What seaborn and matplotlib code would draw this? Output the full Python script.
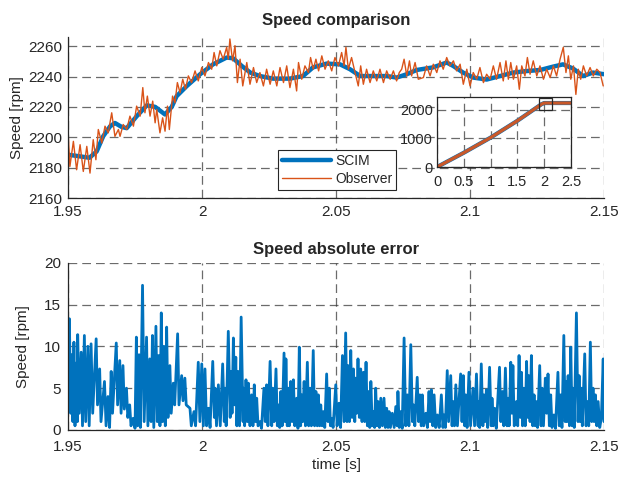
import numpy as np
import pandas as pd
import seaborn as sns
import matplotlib
matplotlib.use("Agg")
import matplotlib.pyplot as plt
from matplotlib.patches import Rectangle
from matplotlib.lines import Line2D

# ---------------- data ----------------
T0 = 1.95  # start time [s]; offsets below in milliseconds

scim_ms = [0, 4.5, 8.0, 10.7, 13.1, 15.7, 17.5, 20.0, 21.9, 25.6, 29.4, 32.5, 36.2, 38.7,
           40.5, 44.3, 49.3, 54.1, 59.2, 61.6, 64.8, 68.0, 71.6, 76.5, 82.8, 87.7, 91.4,
           96.5, 101.5, 105.2, 109.0, 113.8, 118.9, 122.6, 126.4, 130.1, 136.2, 141.3,
           143.7, 147.4, 151.2, 156.2, 161.2, 166.2, 171.2, 176.2, 181.0, 184.7, 188.4,
           192.2, 195.9, 200.0]
scim_rpm = [2188.5, 2187.4, 2186.5, 2190.7, 2200.6, 2207.2, 2209.4, 2206.8, 2206.0, 2213.8,
            2221.0, 2220.0, 2215.0, 2220.0, 2227.0, 2233.7, 2241.5, 2248.0, 2252.5, 2252.0,
            2247.0, 2242.6, 2240.3, 2238.6, 2238.6, 2240.3, 2246.0, 2248.5, 2248.0, 2244.8,
            2240.3, 2240.3, 2240.3, 2239.3, 2241.5, 2244.3, 2246.0, 2249.2, 2247.0, 2242.6,
            2239.3, 2238.0, 2240.3, 2242.6, 2243.6, 2244.3, 2246.5, 2248.0, 2245.3, 2240.3,
            2242.6, 2241.5]

obs_ms = [0.1, 0.7, 2.0, 3.2, 4.5, 5.7, 7.0, 8.2, 9.4, 10.4, 11.3, 12.6, 13.8, 15.0, 16.3,
          17.5, 18.8, 19.4, 20.6, 21.9, 23.1, 24.4, 25.6, 26.9, 27.9, 28.7, 29.6, 30.6,
          31.6, 32.5, 33.1, 34.3, 35.3, 36.2, 37.1, 37.8, 39.0, 39.9, 40.8, 41.8, 42.8,
          43.8, 44.9, 46.1, 47.4, 48.6, 49.9, 51.1, 52.4, 53.6, 54.5, 55.5, 56.7, 57.9,
          59.2, 59.8, 60.4, 61.4, 62.3, 63.2, 64.2, 65.2,
          66.7, 67.9, 69.2, 70.4, 71.6, 72.9, 74.1, 75.4, 76.6, 77.9, 79.1, 80.4, 81.6,
          82.8, 84.1, 85.3, 86.0, 87.2, 88.4, 89.7, 90.5, 91.5, 92.5, 93.5, 94.7, 95.9,
          97.1, 98.4, 99.6, 100.9, 102.1, 103.0, 103.7, 104.6, 105.8, 107.1, 108.3, 109.2,
          110.2, 111.4, 112.7, 113.9, 115.2, 116.4, 117.7, 118.9, 120.2, 121.4, 122.6,
          123.6, 124.5, 125.4, 126.4, 127.4, 128.2, 129.5, 130.7,
          132.6, 133.8, 135.1, 136.3, 137.6, 138.8, 140.0, 141.3, 142.5, 143.8, 145.0,
          146.3, 147.5, 148.8, 150.0, 151.2, 152.5, 153.7, 155.0, 156.2, 157.5, 158.7,
          159.9, 161.2, 162.4, 163.4, 164.3, 165.2, 166.2, 167.4, 168.4, 169.3, 170.5,
          171.4, 172.4, 173.6, 174.9, 176.1, 177.4, 178.6, 179.9, 181.1, 182.3, 183.6,
          184.8, 185.8, 186.7, 187.6, 188.6, 189.5, 190.4, 191.3, 192.3, 193.5, 194.8,
          196.0, 197.3, 198.5, 199.7]
obs_rpm = [2200.6, 2180.8, 2197.3, 2178.6, 2195.1, 2177.5, 2194.0, 2176.4, 2198.4, 2185.2,
           2205.1, 2196.2, 2207.3, 2202.9, 2216.1, 2200.6, 2205.1, 2200.6, 2208.4, 2205.1,
           2213.9, 2207.3, 2220.5, 2213.9, 2232.7, 2216.1, 2227.1, 2213.9, 2223.8, 2209.5,
           2218.3, 2202.9, 2212.8, 2204.0, 2220.5, 2205.1, 2227.1, 2222.7, 2236.0, 2229.3,
           2238.2, 2231.6, 2240.4, 2236.0, 2243.7, 2237.1, 2245.9, 2240.4, 2249.2, 2244.8,
           2255.8, 2247.0, 2257.0, 2251.4, 2259.2, 2251.4, 2264.7, 2250.3, 2260.3, 2236.0,
           2251.4, 2233.8,
           2249.2, 2234.9, 2245.9, 2236.0, 2242.6, 2233.8, 2244.8, 2234.9, 2243.7, 2233.8,
           2245.9, 2236.0, 2247.0, 2232.7, 2244.8, 2230.5, 2249.2, 2238.2, 2247.0, 2242.6,
           2252.5, 2244.8, 2251.4, 2243.7, 2253.6, 2244.8, 2250.3, 2243.7, 2252.5, 2247.0,
           2255.8, 2247.0, 2259.2, 2244.8, 2252.5, 2242.6, 2233.8, 2247.0, 2234.9, 2244.8,
           2236.0, 2243.7, 2237.1, 2244.8, 2236.0, 2243.7, 2238.2, 2243.7, 2237.1, 2242.6,
           2244.8, 2251.4, 2240.4, 2250.3, 2240.4, 2249.2, 2238.2,
           2239.3, 2247.0, 2240.4, 2248.1, 2242.6, 2250.3, 2244.8, 2252.5, 2247.0, 2250.3,
           2243.7, 2248.1, 2234.9, 2244.8, 2233.8, 2242.6, 2238.2, 2245.9, 2236.0, 2241.5,
           2238.2, 2247.0, 2238.2, 2249.2, 2237.1, 2250.3, 2238.2, 2249.2, 2238.2, 2247.0,
           2231.6, 2247.0, 2240.4, 2252.5, 2241.5, 2250.3, 2240.4, 2247.0, 2238.2, 2244.8,
           2239.3, 2247.0, 2240.4, 2251.4, 2259.2, 2242.6, 2253.6, 2238.2, 2247.0, 2228.2,
           2244.8, 2238.2, 2247.0, 2240.4, 2245.9, 2240.4, 2244.8, 2242.6, 2233.8]

err_ms = [0, 0.5, 1.0, 1.3, 1.8, 2.2, 2.6, 3.0, 3.5, 3.6, 4.2, 4.9, 5.4, 6.1, 6.6, 7.4, 7.9,
          8.6, 9.2, 10.5, 11.0, 11.8, 12.3, 13.6, 14.2, 14.9, 15.5, 16.1, 16.6, 18.0, 18.5,
          19.3, 19.8, 20.5, 21.0, 21.8, 22.3, 23.0, 23.5, 24.3, 25.0, 25.5, 26.0, 26.5,
          27.0, 27.8, 28.4, 29.3, 29.8, 30.5, 31.0, 31.5, 32.0, 32.8, 33.3, 33.8, 34.3,
          34.8, 35.3, 35.8, 36.3, 36.8, 37.3, 38.0, 38.5, 39.3, 39.8, 40.9, 41.4, 42.4,
          42.9, 43.6, 44.1, 45.5, 46.0, 47.0, 47.6, 48.6, 49.2,
          49.9, 50.5, 51.1, 51.7, 52.4, 53.0, 54.0, 54.6, 54.9, 55.4, 56.1, 56.8, 57.7,
          58.3, 58.6, 59.0, 59.8, 60.5, 60.8, 61.2, 61.7, 62.2, 62.6, 63.0, 63.5, 64.0,
          64.6, 65.3, 65.4, 65.9, 66.4, 66.9, 67.3, 67.9, 68.5, 69.0, 69.5, 70.0, 70.4,
          70.9, 71.6, 72.2, 73.1, 73.6, 74.1, 74.6, 75.4, 76.0, 76.4, 76.9, 77.6, 78.1,
          78.5, 79.0, 79.4, 79.9, 80.6, 81.0, 81.3, 81.8, 82.2, 82.6, 83.1, 83.6, 84.1,
          84.6, 85.3, 85.8, 86.3, 86.8, 87.2, 87.6, 88.1, 88.6, 89.3, 89.8, 90.3, 90.8,
          91.5, 92.0, 92.5, 93.0, 93.4, 93.9, 94.3, 94.8, 95.3, 95.8, 96.5, 97.0, 97.5,
          97.9, 98.4, 98.9,
          99.9, 100.4, 101.1, 101.7, 102.4, 103.0, 103.6, 104.1, 104.5, 105.0, 105.5,
          106.0, 106.5, 107.0, 107.3, 107.7, 108.2, 108.7, 109.2, 109.7, 110.2, 110.7,
          111.2, 111.7, 112.1, 112.6, 113.0, 113.5, 114.0, 114.4, 114.8, 115.3, 115.7,
          116.2, 116.7, 117.3, 117.9, 118.4, 118.9, 119.4, 119.8, 120.3, 121.0, 121.7,
          122.3, 122.8, 123.1, 123.6, 124.1, 124.7, 125.4, 126.0, 126.6, 127.2, 127.9,
          128.5, 128.9, 129.4, 130.3, 130.8, 131.3, 131.8, 132.2, 132.7, 133.5, 134.1,
          134.7, 135.1, 135.6, 136.1, 136.6, 137.2, 137.8, 138.5, 139.3, 139.9, 140.3,
          140.8, 141.5, 142.0, 142.8, 143.3, 143.7, 144.2, 144.7, 145.3, 146.5, 147.0,
          147.5, 148.0, 148.4, 148.9, 149.6, 150.2,
          151.1, 151.7, 152.4, 153.0, 153.2, 153.6, 154.2, 154.8, 155.2, 155.6, 156.1,
          156.6, 157.3, 157.9, 158.2, 158.7, 159.2, 159.8, 161.0, 161.5, 162.1, 162.6,
          163.2, 163.8, 164.2, 164.6, 165.2, 165.6, 166.0, 166.5, 167.3, 167.8, 168.3,
          168.8, 169.2, 169.6, 170.1, 170.6, 171.1, 171.6, 171.9, 172.4, 172.9, 173.4,
          173.9, 174.3, 174.7, 175.2, 176.0, 176.5, 176.9, 177.4, 178.1, 178.6, 179.1,
          179.6, 180.1, 180.6, 181.3, 181.9, 182.8, 183.3, 183.8, 184.3, 185.0, 185.5,
          185.7, 186.2, 186.6, 187.1, 187.6, 188.1, 188.4, 188.9, 189.7, 190.3, 190.7,
          191.1, 191.5, 191.9, 192.8, 193.3, 193.8, 194.3, 194.9, 195.4, 195.9, 196.3,
          196.8, 197.3, 197.8, 198.4, 199.0, 199.7, 200.0]
err_rpm = [5, 13.3, 2, 9, 1, 10.5, 0.5, 8, 1, 11.4, 2, 9.3, 0.5, 11.3, 1, 10, 0.5,
           10.3, 2, 10.9, 3, 7.3, 1, 5.8, 0.5, 4, 0.3, 7, 2, 10.4, 3,
           8.3, 2, 7.7, 2.5, 5, 1.5, 3, 0.5, 1.4, 0.2, 11.1, 0.5, 9,
           0.3, 17.3, 1, 11.1, 0.5, 8.5, 1, 11.3, 0.3, 12.4, 1, 8.9, 0.5,
           14, 1, 10, 0.5, 12.3, 1.5, 7.7, 2, 5.6, 3, 11.5, 3, 6.5,
           3.5, 6.2, 3, 2.6, 0.5, 2.2, 0.5, 8.1, 1,
           7.9, 0.5, 7.3, 0.5, 2.6, 0.3, 8.2, 1.5, 5.0, 0.5, 5.4, 0.5, 7.9,
           1, 5, 0.5, 11.8, 1.5, 7, 2, 11, 3, 8.7, 0.5, 7, 0.5,
           13.5, 1, 5, 0.5, 6, 1, 5.6, 0.5, 4.2, 0.5, 5.4, 1, 3.8,
           0.5, 1, 0.2, 5, 1, 5.4, 0.5, 8.2, 0.5, 5, 1, 7.3, 0.5,
           3, 0.3, 4.6, 0.5, 9.2, 1, 8.5, 0.5, 5, 0.5, 5.8, 1, 6,
           0.5, 3.8, 0.2, 9.9, 0.5, 4.2, 1, 5.8, 0.5, 8.1, 0.5, 5, 0.5,
           9.5, 0.5, 4.6, 0.5, 4.2, 0.5, 3, 0.5, 2.2, 0.3, 6.7, 1, 5,
           0.5, 1.4, 0.3,
           5.4, 0.5, 3.2, 0.3, 8.9, 1, 11.6, 1, 7.7, 1, 9.5,
           1.5, 7.3, 1, 6.2, 2, 8.5, 1.5, 7.3, 1, 6.9, 1,
           8.1, 0.5, 4.6, 0.3, 5.8, 0.5, 2.2, 0.3, 5, 0.5, 3.4,
           0.3, 3.8, 0.5, 3.8, 0.3, 2.6, 0.3, 2.2, 0.3, 2, 0.3,
           2.8, 0.5, 4.6, 0.3, 2.2, 0.2, 11, 0.5, 4.2, 0.5, 10.2,
           1, 3, 0.5, 6.3, 1, 4.2, 0.5, 4.2, 0.5, 2, 0.3,
           4.6, 1, 4.8, 0.5, 4.2, 0.3, 1.8, 0.3, 4.2, 0.3, 1.8,
           0.3, 7.1, 1, 6.5, 0.5, 3.4, 0.5, 5.4, 0.5, 6.7, 1,
           6.5, 0.5, 4.2, 0.3, 6.9, 0.5,
           5, 0.5, 6.7, 0.5, 3.4, 0.3, 7.9, 0.5, 4.2, 1, 4.8,
           0.3, 7.5, 0.5, 3.8, 0.5, 2.6, 0.2, 7.5, 1, 4.6, 0.5,
           7.4, 0.5, 3.8, 0.5, 8.1, 2, 7.7, 0.5, 3.4, 0.5, 8.9,
           1.5, 6.9, 0.5, 5, 0.5, 8.2, 1.5, 6.5, 1, 8.9, 0.5,
           4.2, 0.5, 3.4, 0.3, 7.7, 0.5, 5, 0.5, 6.2, 2, 6.7,
           0.5, 4.2, 0.3, 1.8, 0.2, 6.9, 0.5, 4.2, 0.3, 11.3, 1,
           5.8, 1, 6.5, 0.5, 9.9, 0.5, 5, 0.3, 14, 1, 6.5,
           1, 5, 0.5, 9.1, 0.5, 3.4, 0.5, 10.5, 1, 5, 1,
           4.2, 0.5, 3.4, 0.3, 1.4, 8.5, 1]

# inset: whole run-up
inset_t = [0.0, 0.5, 1.0, 1.5, 1.95, 2.0, 2.5]
inset_rpm = [0, 500, 1030, 1620, 2200, 2240, 2240]

top_yticks = [2160, 2180, 2200, 2220, 2240, 2260]
x_ticks = [1.95, 2.0, 2.05, 2.1, 2.15]
x_ticklabels = ["1.95", "2", "2.05", "2.1", "2.15"]
err_yticks = [0, 5, 10, 15, 20]

# ---------------- frames ----------------
scim_df = pd.DataFrame({"t": T0 + np.array(scim_ms) / 1000.0, "speed": scim_rpm})
obs_df = pd.DataFrame({"t": T0 + np.array(obs_ms) / 1000.0, "speed": obs_rpm})
err_df = pd.DataFrame({"t": T0 + np.array(err_ms) / 1000.0, "err": err_rpm})
ins_df = pd.DataFrame({"t": inset_t, "speed": inset_rpm})

# ---------------- style ----------------
sns.set_theme(style="white")
plt.rcParams["font.family"] = ["Liberation Sans", "DejaVu Sans"]
plt.rcParams["xtick.direction"] = "in"
plt.rcParams["ytick.direction"] = "in"

BLUE = "#0072BD"
ORANGE = "#D95319"
GRID = dict(color="#3a3a3a", linestyle=(0, (7, 4)), linewidth=0.9, alpha=0.75)
TXT = "#262626"

fig = plt.figure(figsize=(6.19, 4.82), dpi=100)
ax1 = fig.add_axes([0.1099, 0.5892, 0.8659, 0.334])
ax2 = fig.add_axes([0.1099, 0.1079, 0.8659, 0.3471])


def style_axes(ax, fs=11, xpad=5, ypad=4):
    for s in ["top", "right"]:
        ax.spines[s].set_visible(False)
    for s in ["left", "bottom"]:
        ax.spines[s].set_color(TXT)
        ax.spines[s].set_linewidth(0.9)
    ax.tick_params(axis="y", labelsize=fs, colors=TXT, length=4, width=0.8, pad=ypad)
    ax.tick_params(axis="x", labelsize=fs, colors=TXT, length=4, width=0.8, pad=xpad)
    ax.grid(True, **GRID)
    ax.set_axisbelow(True)


# ---- top: speed comparison ----
sns.lineplot(data=scim_df, x="t", y="speed", ax=ax1, color=BLUE, linewidth=3.2,
             estimator=None, sort=False, label="SCIM", legend=False)
sns.lineplot(data=obs_df, x="t", y="speed", ax=ax1, color=ORANGE, linewidth=1.0,
             estimator=None, sort=False, label="Observer", legend=False)
ax1.set_xlim(1.95, 2.15)
ax1.set_ylim(2160, 2266)
ax1.set_xticks(x_ticks)
ax1.set_xticklabels(x_ticklabels)
ax1.set_yticks(top_yticks)
ax1.set_xlabel("")
ax1.set_ylabel("Speed [rpm]", fontsize=11, color=TXT, labelpad=3)
ax1.set_title("Speed comparison", fontsize=12, fontweight="bold", pad=9)
style_axes(ax1)

handles = [Line2D([], [], color=BLUE, linewidth=3.2),
           Line2D([], [], color=ORANGE, linewidth=1.0)]
leg = ax1.legend(handles, ["SCIM", "Observer"], loc="lower left",
                 bbox_to_anchor=(0.392, 0.05), fontsize=10, frameon=True,
                 fancybox=False, framealpha=1, edgecolor=TXT,
                 handlelength=3.5, handletextpad=0.3, borderpad=0.3,
                 labelspacing=0.25, borderaxespad=0)
leg.get_frame().set_linewidth(0.8)

# ---- inset ----
axin = fig.add_axes([0.706, 0.6535, 0.2165, 0.1452])
sns.lineplot(data=ins_df, x="t", y="speed", ax=axin, color=BLUE, linewidth=3.0,
             estimator=None, sort=False, legend=False)
sns.lineplot(data=ins_df, x="t", y="speed", ax=axin, color="#C8582A", linewidth=2.4,
             estimator=None, sort=False, legend=False)
axin.add_patch(Rectangle((1.9, 1990), 0.25, 410, fill=False, edgecolor=TXT,
                         linewidth=0.9, zorder=5))
axin.set_xlim(0, 2.5)
axin.set_ylim(0, 2450)
axin.set_xticks([0, 0.5, 1, 1.5, 2, 2.5])
axin.set_xticklabels(["0", "0.5", "1", "1.5", "2", "2.5"])
axin.set_yticks([0, 1000, 2000])
axin.set_xlabel("")
axin.set_ylabel("")
axin.tick_params(axis="y", labelsize=10.5, colors=TXT, length=3, width=0.8, pad=3)
axin.tick_params(axis="x", labelsize=10.5, colors=TXT, length=3, width=0.8, pad=6)
for s in axin.spines.values():
    s.set_color(TXT)
    s.set_linewidth(0.9)
axin.grid(True, **GRID)
axin.set_facecolor("white")

# ---- bottom: absolute error ----
sns.lineplot(data=err_df, x="t", y="err", ax=ax2, color=BLUE, linewidth=2.0,
             estimator=None, sort=False, legend=False)
ax2.set_xlim(1.95, 2.15)
ax2.set_ylim(0, 20)
ax2.set_xticks(x_ticks)
ax2.set_xticklabels(x_ticklabels)
ax2.set_yticks(err_yticks)
ax2.set_xlabel("time [s]", fontsize=11, color=TXT, labelpad=3)
ax2.set_ylabel("Speed [rpm]", fontsize=11, color=TXT, labelpad=10)
ax2.set_title("Speed absolute error", fontsize=12, fontweight="bold", pad=6)
style_axes(ax2, xpad=7, ypad=5)

fig.savefig("out.png", dpi=100)
